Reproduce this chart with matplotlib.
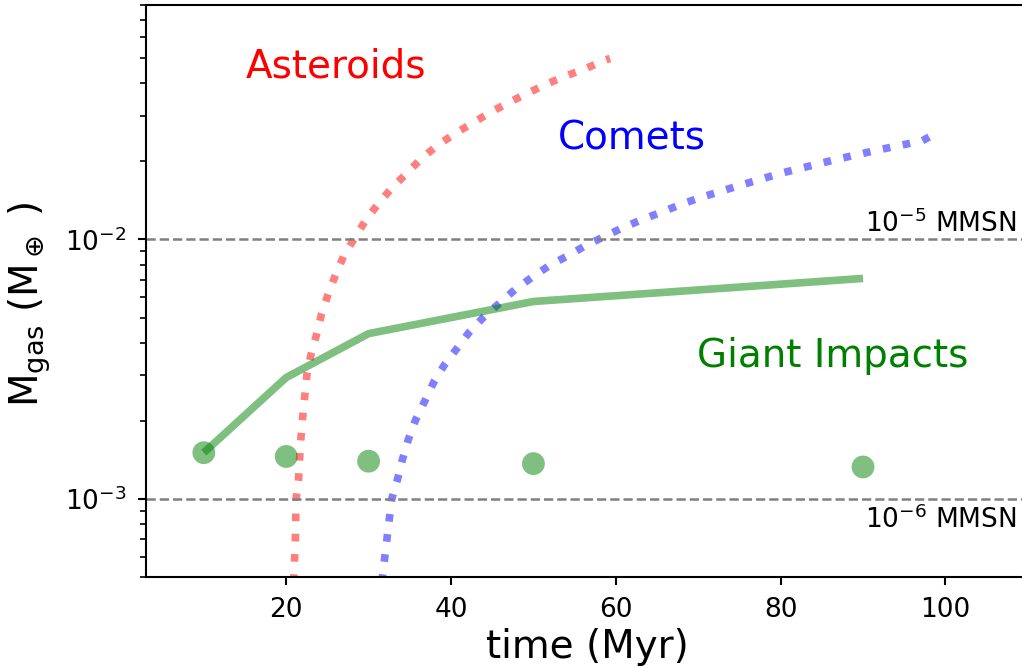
import matplotlib
matplotlib.use("Agg")
import matplotlib.pyplot as plt
import numpy as np

# ---- data ----
gi_time = [10, 20, 30, 50, 90]
gi_line = [1.51e-3, 2.94e-3, 4.34e-3, 5.77e-3, 7.08e-3]
gi_dots = [1.51e-3, 1.46e-3, 1.40e-3, 1.37e-3, 1.33e-3]

ast_time = [20.9, 21.1, 21.2, 21.5, 21.7, 22.0, 22.5, 23.0, 23.7, 24.3, 25.1, 26.0,
            27.0, 28.4, 29.7, 31.3, 32.9, 34.7, 36.4, 38.4, 40.5, 42.7, 44.8, 47.0,
            49.3, 51.6, 53.9, 56.3, 58.8, 59.3]
ast_mass = [4.8e-4, 6.9e-4, 1.0e-3, 1.2e-3, 1.6e-3, 2.08e-3, 3.0e-3, 3.6e-3, 4.33e-3,
            5.19e-3, 6.18e-3, 7.33e-3, 8.67e-3, 1.026e-2, 1.194e-2, 1.39e-2, 1.589e-2,
            1.81e-2, 2.05e-2, 2.31e-2, 2.56e-2, 2.82e-2, 3.09e-2, 3.37e-2, 3.66e-2,
            3.97e-2, 4.26e-2, 4.55e-2, 4.92e-2, 4.98e-2]

com_time = [31.6, 32.2, 32.8, 33.5, 34.1, 34.8, 35.7, 36.8, 37.9, 39.2, 40.7, 42.2,
            44.0, 45.9, 47.8, 49.8, 52.0, 54.1, 56.3, 58.6, 60.9, 63.2, 65.6, 67.9,
            70.3, 72.7, 75.1, 77.6, 79.9, 82.4, 84.9, 87.4, 89.9, 92.3, 94.7, 97.2, 98.1]
com_mass = [4.8e-4, 6.93e-4, 1.0e-3, 1.19e-3, 1.42e-3, 1.69e-3, 2.02e-3, 2.38e-3,
            2.82e-3, 3.29e-3, 3.80e-3, 4.39e-3, 5.04e-3, 5.69e-3, 6.43e-3, 7.14e-3,
            7.96e-3, 8.63e-3, 9.46e-3, 1.026e-2, 1.112e-2, 1.194e-2, 1.276e-2,
            1.365e-2, 1.452e-2, 1.531e-2, 1.618e-2, 1.706e-2, 1.795e-2, 1.879e-2,
            1.968e-2, 2.056e-2, 2.143e-2, 2.228e-2, 2.31e-2, 2.40e-2, 2.49e-2]

mmsn_levels = [1e-2, 1e-3]
mmsn_labels = [r"$10^{-5}$ MMSN", r"$10^{-6}$ MMSN"]

fig = plt.figure(figsize=(10.22, 6.68), dpi=100)
ax = fig.add_axes([0.143, 0.1358, 0.8627, 0.8567])

ax.plot(ast_time, ast_mass, color="r", alpha=0.5, lw=5.5, ls=":")
ax.plot(com_time, com_mass, color="b", alpha=0.5, lw=5.5, ls=":")
ax.plot(gi_time, gi_line, color="g", alpha=0.5, lw=5.5, solid_capstyle="butt")
ax.scatter(gi_time, gi_dots, s=270, color="g", alpha=0.5, edgecolors="none", zorder=3)

for lev in mmsn_levels:
    ax.axhline(lev, color="gray", ls="--", lw=1.8)

ax.text(90.2, 1.07e-2, mmsn_labels[0], fontsize=19, ha="left", va="baseline")
ax.text(90.2, 7.73e-4, mmsn_labels[1], fontsize=19, ha="left", va="baseline")

ax.text(15.1, 4.21e-2, "Asteroids", color="red", fontsize=28, ha="left", va="baseline")
ax.text(53.0, 2.22e-2, "Comets", color="blue", fontsize=28, ha="left", va="baseline")
ax.text(69.9, 3.22e-3, "Giant Impacts", color="green", fontsize=28, ha="left", va="baseline")

ax.set_yscale("log")
ax.set_xlim(3, 110)
ax.set_ylim(5e-4, 8e-2)
ax.set_xticks([20, 40, 60, 80, 100])

ax.set_xlabel("time (Myr)", fontsize=28)
ax.set_ylabel(r"M$_{\rm gas}$ (M$_\oplus$ )", fontsize=28)
ax.yaxis.set_label_coords(-0.106, 0.477)

for s in ax.spines.values():
    s.set_linewidth(1.5)
ax.spines["right"].set_visible(False)
ax.tick_params(which="major", direction="out", length=6, width=1.5, labelsize=19, pad=8,
               top=False, right=False)
ax.tick_params(which="minor", direction="out", length=4, width=1.2, top=False, right=False)

fig.savefig("out.png", dpi=100)
